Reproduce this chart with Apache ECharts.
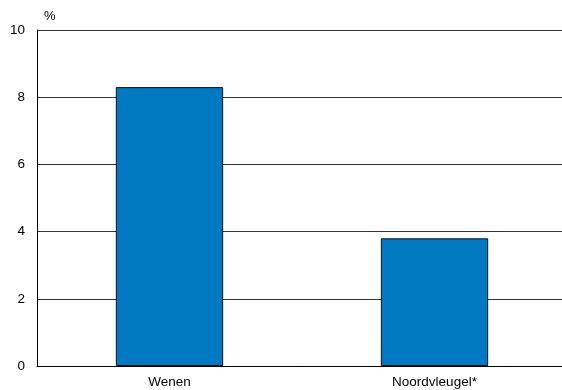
<!DOCTYPE html>
<html>
<head>
<meta charset="utf-8">
<script src="https://cdn.jsdelivr.net/npm/echarts@6/dist/echarts.min.js"></script>
<style>html,body{margin:0;padding:0;background:#fff}#c{width:562px;height:390px}</style>
</head>
<body>
<div id="c"></div>
<script>
var categories = ["Wenen", "Noordvleugel*"];
var values = [8.3, 3.8];
var yTicks = [0, 2, 4, 6, 8, 10];

var chart = echarts.init(document.getElementById('c'), null, {renderer: 'canvas'});
chart.setOption({
  animation: false,
  backgroundColor: '#fff',
  textStyle: {fontFamily: 'Liberation Sans, Arial, sans-serif'},
  grid: {left: 37, right: -5, top: 30, bottom: 24, containLabel: false, outerBoundsMode: 'none'},
  graphic: [{type: 'text', left: 44, top: 10, style: {text: '%', fontSize: 13, fill: '#000', fontFamily: 'Liberation Sans, Arial, sans-serif'}}],
  xAxis: {
    type: 'category',
    data: categories,
    axisLine: {show: true, lineStyle: {color: '#000', width: 1}},
    axisTick: {show: false},
    axisLabel: {color: '#000', fontSize: 13.5, margin: 9, fontFamily: 'Liberation Sans, Arial, sans-serif'}
  },
  yAxis: {
    type: 'value',
    min: yTicks[0],
    max: yTicks[yTicks.length - 1],
    interval: 2,
    axisLine: {show: true, lineStyle: {color: '#000', width: 1}},
    axisTick: {show: false},
    axisLabel: {color: '#000', fontSize: 13.5, margin: 12, fontFamily: 'Liberation Sans, Arial, sans-serif'},
    splitLine: {show: true, lineStyle: {color: '#333', width: 1}}
  },
  series: [{
    type: 'bar',
    data: values,
    barWidth: '40.5%',
    itemStyle: {color: '#0079C2', borderColor: '#111', borderWidth: 1}
  }]
});
</script>
</body>
</html>
